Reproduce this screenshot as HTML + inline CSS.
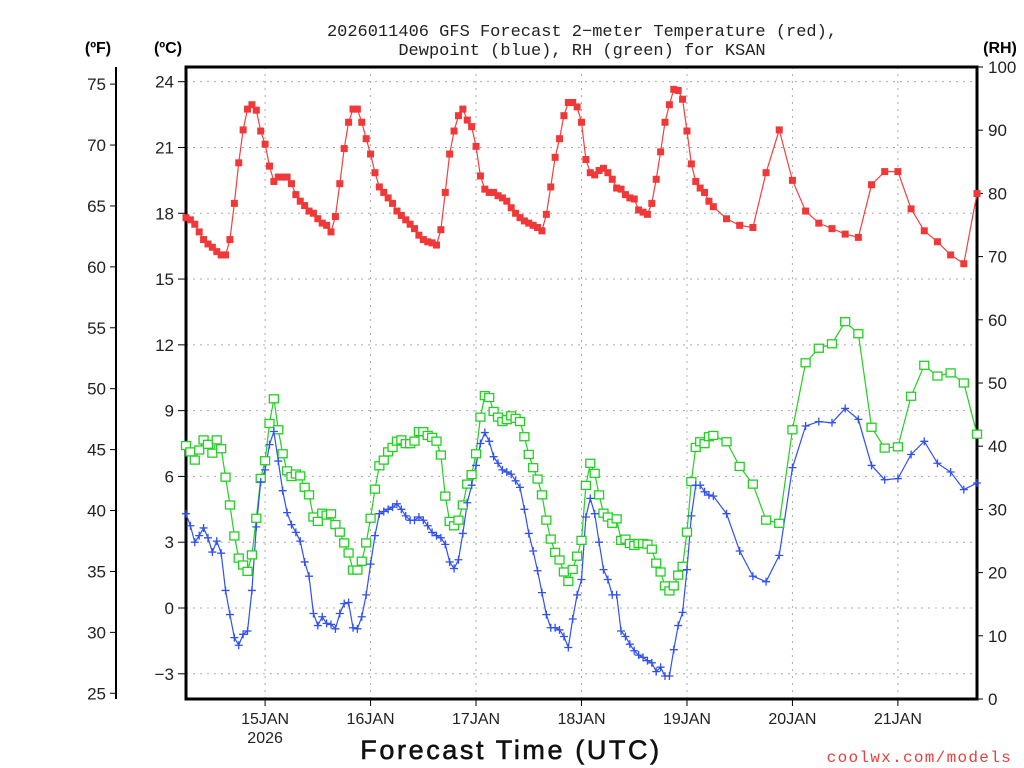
<!DOCTYPE html>
<html><head><meta charset="utf-8"><style>
html,body{margin:0;padding:0;background:#fff;}
svg{display:block;font-family:"Liberation Sans",sans-serif;}
</style></head><body>
<svg id="chart" width="1024" height="768" viewBox="0 0 1024 768">
<text x="582" y="36" font-size="17" font-family="Liberation Mono, monospace" text-anchor="middle" fill="#222">2026011406 GFS Forecast 2−meter Temperature (red),</text>
<text x="582" y="55" font-size="17" font-family="Liberation Mono, monospace" text-anchor="middle" fill="#222">Dewpoint (blue), RH (green) for KSAN</text>
<text x="98" y="53" font-size="16" font-weight="bold" text-anchor="middle">(ºF)</text>
<text x="168" y="53" font-size="16" font-weight="bold" text-anchor="middle">(ºC)</text>
<text x="1000" y="53" font-size="16" font-weight="bold" text-anchor="middle">(RH)</text>
<text x="511" y="759" font-size="27" text-anchor="middle" fill="#111" letter-spacing="2.6" stroke="#111" stroke-width="0.6">Forecast Time (UTC)</text>
<text x="1012" y="762" font-size="16" font-family="Liberation Mono, monospace" text-anchor="end" fill="#e84040" letter-spacing="1.3">coolwx.com/models</text>
<g id="grid"></g><g id="axes"></g><g id="series"></g>
</svg>
<script>
const tempC=[17.8,17.7,17.5,17.15,16.8,16.6,16.45,16.25,16.1,16.1,16.8,18.45,20.3,21.8,22.75,22.95,22.7,21.75,21.15,20.15,19.45,19.65,19.65,19.65,19.35,18.85,18.55,18.35,18.1,18.0,17.75,17.55,17.45,17.15,17.85,19.35,20.95,22.15,22.75,22.75,22.15,21.4,20.7,19.85,19.2,18.95,
18.7,18.45,18.1,17.9,17.7,17.5,17.3,17.0,16.8,16.7,16.65,16.55,17.25,18.95,20.7,21.75,22.45,22.75,22.25,21.95,21.05,19.7,19.1,18.95,18.95,18.8,18.7,18.55,18.25,18.0,17.8,17.65,17.55,17.45,17.35,17.2,17.95,19.2,20.55,21.4,22.45,23.05,23.05,22.85,
22.15,20.45,19.85,19.75,19.95,20.05,19.85,19.55,19.15,19.1,18.85,18.7,18.65,18.15,18.05,17.95,18.45,19.55,20.8,22.15,22.95,23.65,23.6,23.2,21.75,20.25,19.45,19.15,18.95,18.55,18.3,
17.75,17.45,17.35,19.85,21.8,19.5,18.1,17.55,17.3,17.05,16.9,19.3,19.9,19.9,18.2,17.2,16.7,16.1,15.7,18.9];
const dewC=[4.3,3.75,3.0,3.3,3.65,3.2,2.55,3.05,2.5,0.8,-0.3,-1.35,-1.7,-1.2,-1.05,0.8,3.7,5.75,6.3,7.45,8.05,6.7,5.35,4.35,3.8,3.45,3.05,2.1,1.45,-0.25,-0.8,-0.4,-0.7,-0.75,-0.95,-0.25,0.2,0.25,-0.9,-0.95,-0.4,0.6,2.0,3.3,4.3,4.4,
4.5,4.6,4.75,4.5,4.2,4.0,4.0,4.15,4.0,3.75,3.45,3.3,3.2,2.9,2.1,1.8,2.2,3.4,4.8,5.6,6.5,7.5,8.0,7.6,6.9,6.6,6.3,6.2,6.1,5.8,5.5,4.5,3.4,2.6,1.7,0.7,-0.3,-0.9,-0.9,-1.0,-1.3,-1.8,-0.5,0.6,
1.3,4.15,5.0,4.3,3.0,1.75,1.3,0.6,0.6,-1.05,-1.3,-1.65,-1.95,-2.15,-2.25,-2.4,-2.5,-2.9,-2.7,-3.1,-3.1,-1.9,-0.8,-0.2,1.75,4.2,5.6,5.6,5.3,5.15,5.1,
4.3,2.6,1.45,1.2,2.4,6.4,8.3,8.5,8.45,9.1,8.6,6.5,5.85,5.9,7.0,7.6,6.6,6.2,5.4,5.7];
const rhPct=[40.1,39.1,37.8,39.4,41.0,40.3,38.9,41.0,39.6,35.1,30.7,25.8,22.3,21.2,20.2,22.8,28.6,34.9,37.7,43.6,47.5,42.6,38.8,36.1,35.2,35.6,35.3,33.5,32.3,28.8,28.1,29.4,29.1,29.3,27.6,26.4,24.7,23.1,20.4,20.4,21.8,24.7,28.6,33.2,36.9,37.8,
39.1,39.8,40.8,41.0,40.4,40.4,40.8,42.3,42.3,41.7,41.4,40.8,38.6,32.1,28.1,27.4,28.3,30.7,34.0,35.5,38.8,44.6,48.0,47.7,45.5,44.6,43.9,44.2,44.8,44.4,43.9,41.5,38.7,36.6,34.8,32.3,28.3,25.3,23.2,22.0,20.1,18.6,20.5,22.6,
25.1,33.8,37.3,35.7,32.3,29.4,28.8,27.8,28.5,25.1,25.3,24.6,24.3,24.6,24.6,24.5,23.7,21.5,20.1,17.9,17.1,17.9,19.6,21.0,26.4,34.4,39.8,40.7,40.4,41.5,41.7,
40.7,36.8,34.0,28.3,27.8,42.6,53.2,55.5,56.2,59.7,57.8,43,39.7,39.9,47.9,52.8,51.1,51.6,50,41.9];
const dayLabels=["15JAN","16JAN","17JAN","18JAN","19JAN","20JAN","21JAN"];
const dayHours=[18,42,66,90,114,138,162];
const cTicks=[24,21,18,15,12,9,6,3,0,-3];
const fTicks=[75,70,65,60,55,50,45,40,35,30,25];
const rhTicks=[0,10,20,30,40,50,60,70,80,90,100];

const NS="http://www.w3.org/2000/svg";
const L=186,R=977,T=67,B=699;
const hours=[];for(let h=0;h<=120;h++)hours.push(h);for(let h=123;h<=180;h+=3)hours.push(h);
const xS=h=>L+h*(R-L)/180;
const yC=c=>608-c*21.93;
const yF=f=>yC((f-32)*5/9);
const yRH=r=>B-r*(B-T)/100;
function mk(tag,attrs,parent){const e=document.createElementNS(NS,tag);for(const k in attrs)e.setAttribute(k,attrs[k]);parent.appendChild(e);return e;}
const grid=document.getElementById('grid'),axes=document.getElementById('axes'),ser=document.getElementById('series');
cTicks.forEach(c=>{
 const g=mk('line',{x1:L,x2:R,y1:yC(c),y2:yC(c),stroke:'#aaa','stroke-dasharray':'2,5'},grid);
 
 mk('line',{x1:178,x2:L,y1:yC(c),y2:yC(c),stroke:'#000'},axes);
 const t=mk('text',{x:174,y:yC(c)+6,'font-size':17,'text-anchor':'end',fill:'#222'},axes);t.textContent=c<0?'−'+(-c):c;
 
});
dayHours.forEach((h,i)=>{
 const g=mk('line',{x1:xS(h),x2:xS(h),y1:T,y2:B,stroke:'#aaa','stroke-dasharray':'2,5'},grid);
 
 mk('line',{x1:xS(h),x2:xS(h),y1:B,y2:B+7,stroke:'#000'},axes);
 const t=mk('text',{x:xS(h),y:724,'font-size':16,'text-anchor':'middle',fill:'#222'},axes);t.textContent=dayLabels[i];
 
});
const yr=mk('text',{x:xS(18),y:743,'font-size':16,'text-anchor':'middle',fill:'#222'},axes);yr.textContent='2026';

mk('line',{x1:116,x2:116,y1:T,y2:B,stroke:'#000','stroke-width':2},axes);
fTicks.forEach(f=>{
 mk('line',{x1:110,x2:116,y1:yF(f),y2:yF(f),stroke:'#000'},axes);
 const t=mk('text',{x:106,y:yF(f)+6,'font-size':17,'text-anchor':'end',fill:'#222'},axes);t.textContent=f;
 
});
rhTicks.forEach(r=>{
 mk('line',{x1:R,x2:R+6,y1:yRH(r),y2:yRH(r),stroke:'#000'},axes);
 const t=mk('text',{x:988,y:yRH(r)+6,'font-size':17,fill:'#222'},axes);t.textContent=r;
 
});
const frame=mk('rect',{x:L,y:T,width:R-L,height:B-T,fill:'none',stroke:'#000','stroke-width':3},axes);


function line(vals,yf,color,name){
 const p=mk('polyline',{points:vals.map((v,i)=>xS(hours[i])+','+yf(v)).join(' '),fill:'none',stroke:color,'stroke-width':1.2},ser);
 
}
line(rhPct,yRH,'#22d022','rh-line');
line(dewC,yC,'#3050f0','dewpoint-line');
line(tempC,yC,'#f04040','temperature-line');
rhPct.forEach((v,i)=>{const m=mk('rect',{x:xS(hours[i])-4.5,y:yRH(v)-4,width:9,height:8,fill:'#fff',stroke:'#22d022','stroke-width':1.3},ser);
 });
dewC.forEach((v,i)=>{const x=xS(hours[i]),y=yC(v);const m=mk('path',{d:`M${x-4},${y}H${x+4}M${x},${y-4}V${y+4}`,stroke:'#3050f0','stroke-width':1.3},ser);
 });
tempC.forEach((v,i)=>{const m=mk('rect',{x:xS(hours[i])-3.5,y:yC(v)-3.5,width:7,height:7,fill:'#f03838'},ser);
 });
</script>
</body></html>
